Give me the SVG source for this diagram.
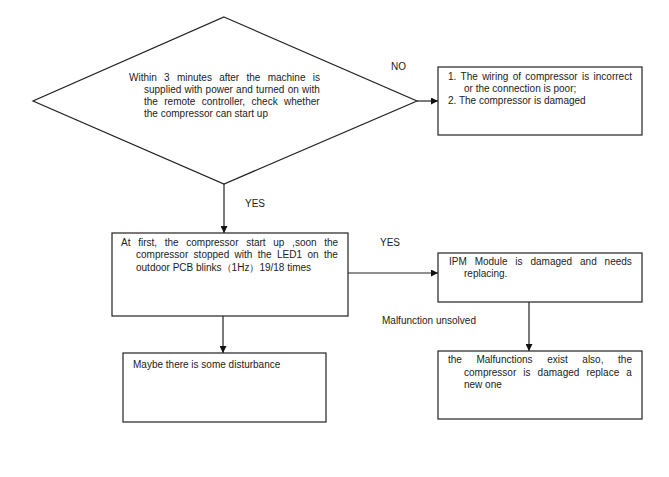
<svg xmlns="http://www.w3.org/2000/svg" width="669" height="477" viewBox="0 0 669 477">
<defs>
<marker id="ah" markerWidth="7" markerHeight="7" refX="7" refY="3.5" orient="auto" markerUnits="userSpaceOnUse">
<path d="M0,0 L7,3.5 L0,7 Z" fill="#111"/>
</marker>
<style>
.n{fill:#fff;stroke:#222;stroke-width:1.2}
.t{font-family:"Liberation Sans",Arial,sans-serif;font-size:10px;fill:#222}
.c{stroke:#222;stroke-width:1.2;fill:none}
</style>
</defs>
<rect width="669" height="477" fill="#fff"/>
<g id="connectors">
<line class="c" x1="417" y1="101" x2="438" y2="101" marker-end="url(#ah)"/>
<line class="c" x1="224" y1="184" x2="224" y2="233" marker-end="url(#ah)"/>
<line class="c" x1="348" y1="273" x2="438" y2="273" marker-end="url(#ah)"/>
<line class="c" x1="529" y1="302" x2="529" y2="351" stroke="#555" marker-end="url(#ah)"/>
<line class="c" x1="223" y1="316" x2="223" y2="353" marker-end="url(#ah)"/>
<text class="t" x="391" y="70">NO</text>
<text class="t" x="245" y="207">YES</text>
<text class="t" x="380" y="246">YES</text>
<text class="t" x="382" y="324">Malfunction unsolved</text>
</g>
<g id="decision">
<polygon class="n" points="224,17 417,101 224,184 33,101"/>
<text class="t" x="129" y="81" word-spacing="4.5">Within 3 minutes after the machine is</text>
<text class="t" x="144" y="93" word-spacing="0.5">supplied with power and turned on with</text>
<text class="t" x="144" y="105" word-spacing="3.6">the remote controller, check whether</text>
<text class="t" x="144" y="117">the compressor can start up</text>
</g>
<g id="box-wiring">
<rect class="n" x="438" y="67" width="204" height="68"/>
<text class="t" x="448" y="80" word-spacing="1.6">1. The wiring of compressor is incorrect</text>
<text class="t" x="464" y="92">or the connection is poor;</text>
<text class="t" x="448" y="104">2. The compressor is damaged</text>
</g>
<g id="box-first">
<rect class="n" x="112" y="233" width="236" height="83"/>
<text class="t" x="121" y="246" word-spacing="4.9">At first, the compressor start up ,soon the</text>
<text class="t" x="136" y="258" word-spacing="2.6">compressor stopped with the LED1 on the</text>
<text class="t" x="136" y="271">outdoor PCB blinks（1Hz）19/18 times</text>
</g>
<g id="box-ipm">
<rect class="n" x="438" y="253" width="204" height="49"/>
<text class="t" x="449" y="265" word-spacing="5.1">IPM Module is damaged and needs</text>
<text class="t" x="464" y="277">replacing.</text>
</g>
<g id="box-replace">
<rect class="n" x="438" y="351" width="204" height="68"/>
<text class="t" x="448" y="363" word-spacing="11.8">the Malfunctions exist also, the</text>
<text class="t" x="464" y="376" word-spacing="4.3">compressor is damaged replace a</text>
<text class="t" x="464" y="388">new one</text>
</g>
<g id="box-disturbance">
<rect class="n" x="123" y="353" width="203" height="69"/>
<text class="t" x="133" y="368">Maybe there is some disturbance</text>
</g>
</svg>
